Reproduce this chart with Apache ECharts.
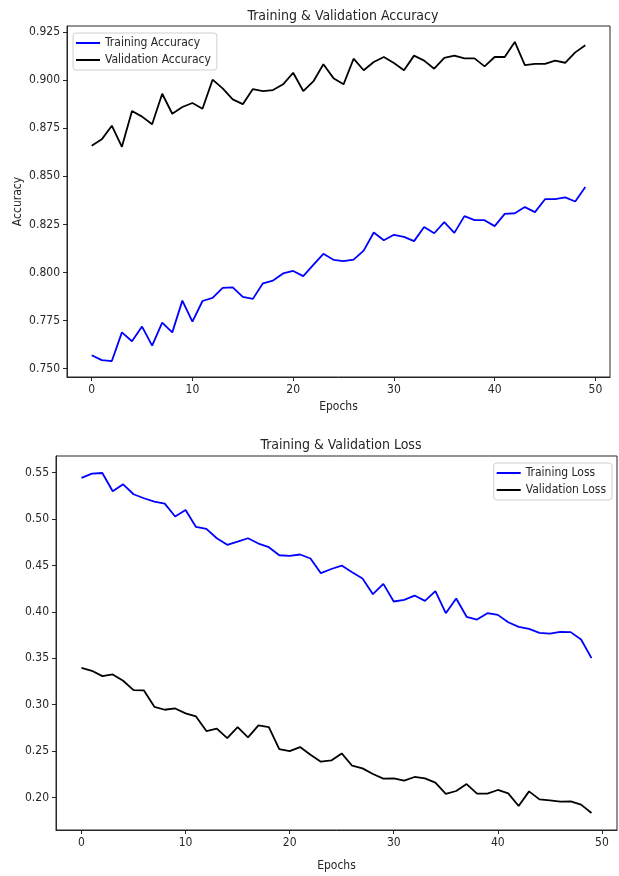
<!DOCTYPE html>
<html>
<head>
<meta charset="utf-8">
<script src="https://cdn.jsdelivr.net/npm/echarts@6/dist/echarts.min.js"></script>
<style>
html,body{margin:0;padding:0;background:#fff;}
#chart{width:619px;height:876px;}
</style>
</head>
<body>
<div id="chart"></div>
<script>
var epochs = [];
for (var e = 0; e < 50; e++) epochs.push(e);

var trainAcc = [0.7570,0.7545,0.7540,0.7689,0.7643,0.7719,0.7620,0.7740,0.7689,0.7854,
  0.7745,0.7852,0.7868,0.7920,0.7923,0.7873,0.7863,0.7944,0.7958,0.7995,
  0.8008,0.7981,0.8040,0.8097,0.8066,0.8059,0.8067,0.8114,0.8208,0.8168,
  0.8196,0.8185,0.8163,0.8236,0.8204,0.8262,0.8206,0.8293,0.8272,0.8272,
  0.8241,0.8305,0.8308,0.8340,0.8314,0.8381,0.8381,0.8390,0.8369,0.8444];
var valAcc = [0.8659,0.8692,0.8763,0.8653,0.8839,0.8810,0.8770,0.8929,0.8825,0.8860,
  0.8881,0.8851,0.9002,0.8957,0.8900,0.8875,0.8953,0.8943,0.8948,0.8978,
  0.9038,0.8943,0.8993,0.9082,0.9010,0.8978,0.9111,0.9051,0.9094,0.9120,
  0.9089,0.9051,0.9127,0.9101,0.9059,0.9115,0.9127,0.9113,0.9113,0.9071,
  0.9120,0.9120,0.9198,0.9078,0.9084,0.9084,0.9101,0.9090,0.9144,0.9181];
var trainLoss = [0.5443,0.5489,0.5496,0.5299,0.5374,0.5267,0.5224,0.5188,0.5166,0.5027,
  0.5098,0.4915,0.4894,0.4793,0.4722,0.4757,0.4793,0.4736,0.4697,0.4610,
  0.4603,0.4618,0.4575,0.4417,0.4462,0.4499,0.4427,0.4359,0.4191,0.4302,
  0.4112,0.4130,0.4176,0.4119,0.4223,0.3986,0.4144,0.3947,0.3918,0.3986,
  0.3968,0.3889,0.3839,0.3818,0.3775,0.3767,0.3785,0.3782,0.3703,0.3502];
var valLoss = [0.3398,0.3366,0.3308,0.3326,0.3258,0.3158,0.3154,0.2978,0.2946,0.2960,
  0.2907,0.2874,0.2717,0.2742,0.2641,0.2760,0.2648,0.2777,0.2760,0.2523,
  0.2501,0.2544,0.2462,0.2387,0.2400,0.2476,0.2343,0.2315,0.2254,0.2204,
  0.2207,0.2182,0.2222,0.2207,0.2161,0.2039,0.2071,0.2146,0.2042,0.2042,
  0.2082,0.2046,0.1909,0.2067,0.1981,0.1970,0.1956,0.1960,0.1924,0.1834];

var xTicks = [0, 10, 20, 30, 40, 50];
var accTicks = [0.750, 0.775, 0.800, 0.825, 0.850, 0.875, 0.900, 0.925];
var lossTicks = [0.20, 0.25, 0.30, 0.35, 0.40, 0.45, 0.50, 0.55];

var FONT = "'DejaVu Sans Condensed', 'DejaVu Sans', sans-serif";
var INK = '#262626';

function pairs(arr) { return epochs.map(function (x, i) { return [x, arr[i]]; }); }

function xAxisCfg(gi, gap) {
  return {
    type: 'value', gridIndex: gi, min: -2.45, max: 51.45,
    name: 'Epochs', nameLocation: 'middle', nameGap: gap,
    nameTextStyle: { fontFamily: FONT, fontSize: 12, color: INK },
    splitLine: { show: false },
    axisLine: { show: true, onZero: false, lineStyle: { color: INK, width: 1 } },
    axisTick: { show: true, length: 4, lineStyle: { color: INK }, customValues: xTicks },
    axisLabel: { customValues: xTicks, fontFamily: FONT, fontSize: 12, color: INK, margin: 7,
      formatter: function (v) { return String(v); } }
  };
}
function yAxisCfg(gi, mn, mx, ticks, dec, name) {
  return {
    type: 'value', gridIndex: gi, min: mn, max: mx,
    name: name || '', nameLocation: 'middle', nameGap: 43, nameRotate: 90,
    nameMoveOverlap: false,
    nameTextStyle: { fontFamily: FONT, fontSize: 12, color: INK },
    splitLine: { show: false },
    axisLine: { show: true, onZero: false, lineStyle: { color: INK, width: 1 } },
    axisTick: { show: true, length: 4, lineStyle: { color: INK }, customValues: ticks },
    axisLabel: { customValues: ticks, fontFamily: FONT, fontSize: 12, color: INK, margin: 7,
      formatter: function (v) { return v.toFixed(dec); } }
  };
}
function legendCfg(pos, names) {
  var l = {
    orient: 'vertical', data: names, icon: 'rect', itemWidth: 24, itemHeight: 2,
    itemGap: 5, padding: [4, 6, 4, 3], borderColor: '#d0d0d0', borderWidth: 1,
    borderRadius: 3, backgroundColor: 'rgba(255,255,255,0.8)',
    textStyle: { fontFamily: FONT, fontSize: 12, color: INK }
  };
  for (var k in pos) l[k] = pos[k];
  return l;
}
function lineSeries(name, arr, color, gi) {
  return {
    type: 'line', name: name, xAxisIndex: gi, yAxisIndex: gi, data: pairs(arr),
    showSymbol: false, symbol: 'none', animation: false,
    itemStyle: { color: color },
    lineStyle: { color: color, width: 1.8 }
  };
}

var chart = echarts.init(document.getElementById('chart'), null, { renderer: 'canvas' });
chart.setOption({
  animation: false,
  backgroundColor: '#ffffff',
  title: [
    { text: 'Training & Validation Accuracy', left: 338, top: 4, textAlign: 'center',
      textStyle: { fontFamily: FONT, fontSize: 14, fontWeight: 'normal', color: INK } },
    { text: 'Training & Validation Loss', left: 336, top: 433, textAlign: 'center',
      textStyle: { fontFamily: FONT, fontSize: 14, fontWeight: 'normal', color: INK } }
  ],
  grid: [
    { left: 67, top: 26, width: 543, height: 351, show: true, borderColor: INK, borderWidth: 1, backgroundColor: 'transparent' },
    { left: 56, top: 456, width: 561, height: 374, show: true, borderColor: INK, borderWidth: 1, backgroundColor: 'transparent' }
  ],
  xAxis: [xAxisCfg(0, 24), xAxisCfg(1, 30)],
  yAxis: [
    yAxisCfg(0, 0.7457, 0.9281, accTicks, 3, 'Accuracy'),
    yAxisCfg(1, 0.1651, 0.5679, lossTicks, 2, '')
  ],
  legend: [
    legendCfg({ left: 73, top: 33 }, ['Training Accuracy', 'Validation Accuracy']),
    legendCfg({ right: 7, top: 463 }, ['Training Loss', 'Validation Loss'])
  ],
  series: [
    lineSeries('Training Accuracy', trainAcc, '#0000ff', 0),
    lineSeries('Validation Accuracy', valAcc, '#000000', 0),
    lineSeries('Training Loss', trainLoss, '#0000ff', 1),
    lineSeries('Validation Loss', valLoss, '#000000', 1)
  ]
});
</script>
</body>
</html>
